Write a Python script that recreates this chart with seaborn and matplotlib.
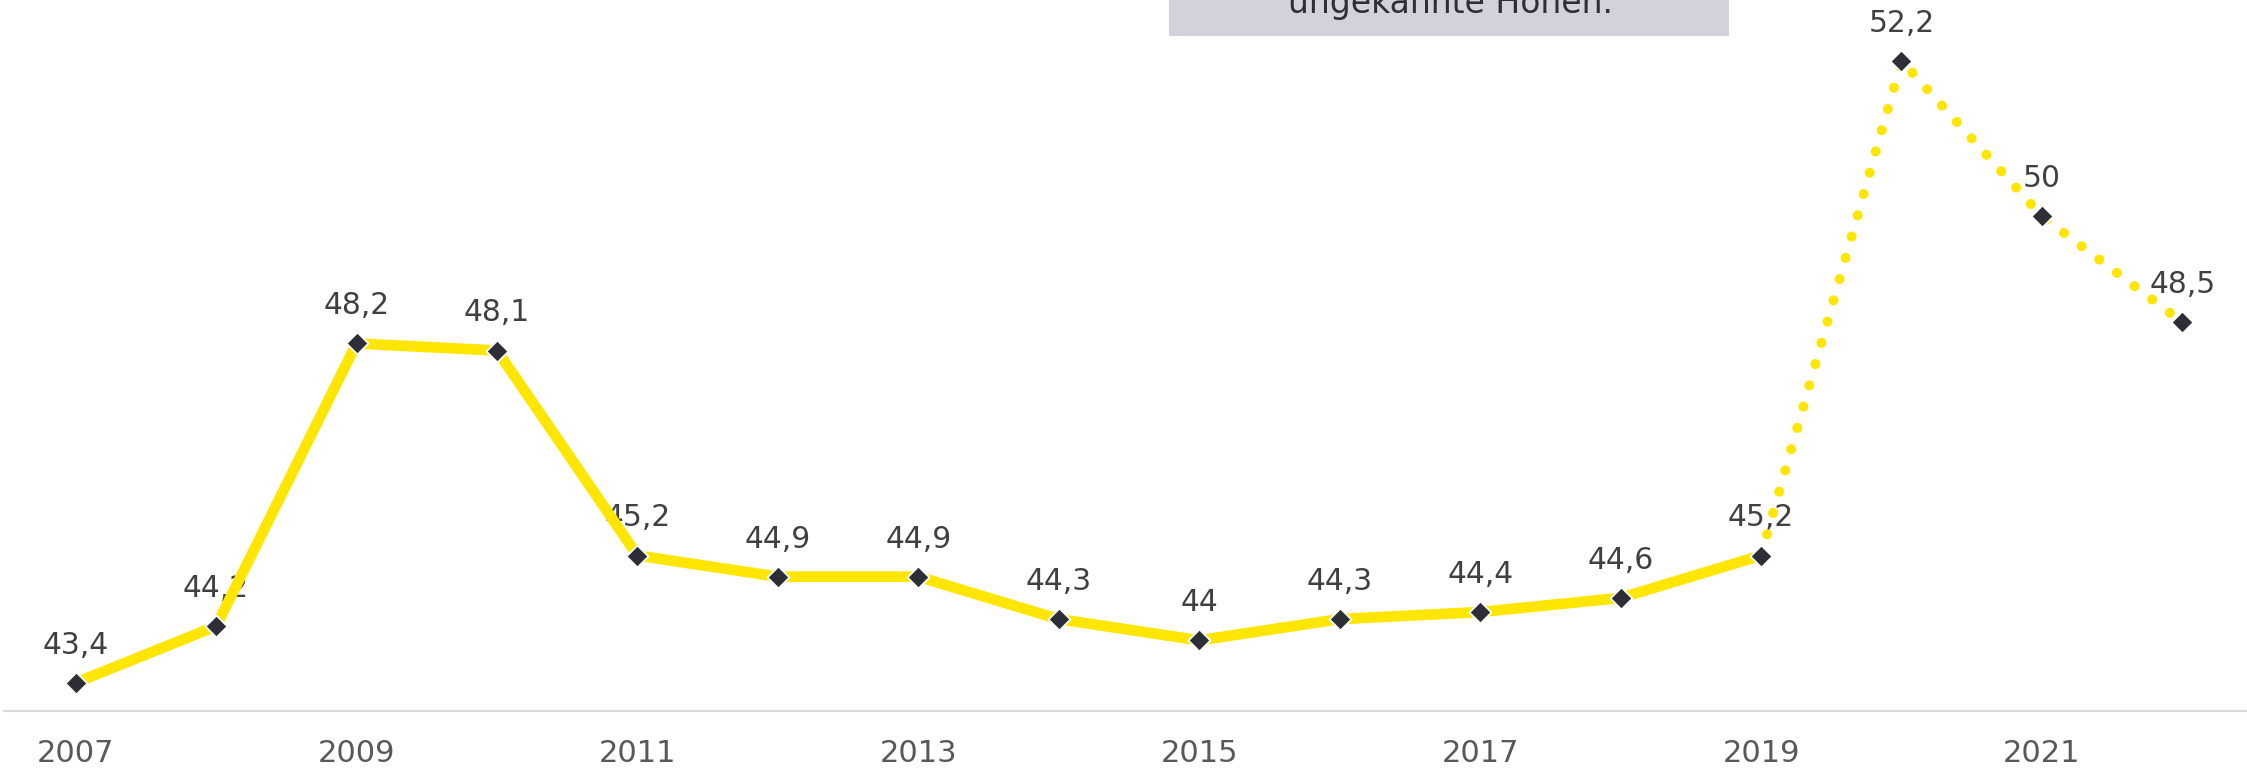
import numpy as np
import pandas as pd
import seaborn as sns
import matplotlib.pyplot as plt
from matplotlib.patches import Rectangle

# data
years = [2007, 2008, 2009, 2010, 2011, 2012, 2013, 2014, 2015, 2016, 2017, 2018, 2019, 2020, 2021, 2022]
values = [43.4, 44.2, 48.2, 48.1, 45.2, 44.9, 44.9, 44.3, 44.0, 44.3, 44.4, 44.6, 45.2, 52.2, 50.0, 48.5]
labels = ['43,4', '44,2', '48,2', '48,1', '45,2', '44,9', '44,9', '44,3', '44', '44,3', '44,4', '44,6', '45,2', '52,2', '50', '48,5']
tick_years = [2007, 2009, 2011, 2013, 2015, 2017, 2019, 2021]
last_actual = 2019
box_text = 'ungekannte Höhen.'

df = pd.DataFrame({'year': years, 'value': values, 'label': labels})
actual = df[df.year <= last_actual]
forecast = df[df.year >= last_actual]

sns.set_style('white')
plt.rcParams['font.family'] = ['DejaVu Sans']

W, H = 2247, 769
fig = plt.figure(figsize=(W / 100, H / 100), dpi=100)
ax = fig.add_axes([4 / W, 58 / H, 1 - 4 / W, 1 - 58 / H])

yellow = '#FFE600'
dark = '#2E2E38'

sns.lineplot(data=actual, x='year', y='value', ax=ax, color=yellow, linewidth=7.7,
             solid_capstyle='butt', zorder=3)
sns.lineplot(data=forecast, x='year', y='value', ax=ax, color=yellow, linewidth=7.2,
             linestyle=(0, (0.01, 2.2)), dash_capstyle='round', zorder=3)
sns.scatterplot(data=df, x='year', y='value', ax=ax, marker='D', s=125, color=dark,
                edgecolor='white', linewidth=1.3, zorder=4)

for _, r in df.iterrows():
    ax.annotate(r.label, (r.year, r.value), xytext=(0, 21), textcoords='offset points',
                ha='center', va='baseline', fontsize=21.4, color='#404040', zorder=2)

ax.set_xlim(2006.49, 2022.46)
ax.set_ylim(43.0, 53.06)
ax.set_xticks(tick_years)
ax.set_xticklabels([str(t) for t in tick_years])
ax.set_yticks([])
ax.set_xlabel('')
ax.set_ylabel('')
ax.tick_params(axis='x', length=0, pad=20, labelsize=22, labelcolor='#595959')
for s in ['top', 'right', 'left']:
    ax.spines[s].set_visible(False)
ax.spines['bottom'].set_color('#D9D9D9')
ax.spines['bottom'].set_linewidth(1.5)
ax.set_facecolor('white')

# annotation box at the top (cut off by the figure edge)
fig.patches.append(Rectangle((1169 / W, 1 - 36 / H), (1729 - 1169) / W, 60 / H,
                             transform=fig.transFigure, facecolor='#D2D2DA',
                             edgecolor='none', zorder=5))
fig.text(1450 / W, 1 - 13 / H, box_text, ha='center', va='baseline', fontsize=23.8,
         color='#2E2E38', zorder=6)

fig.savefig('out.png', dpi=100, facecolor='white')
